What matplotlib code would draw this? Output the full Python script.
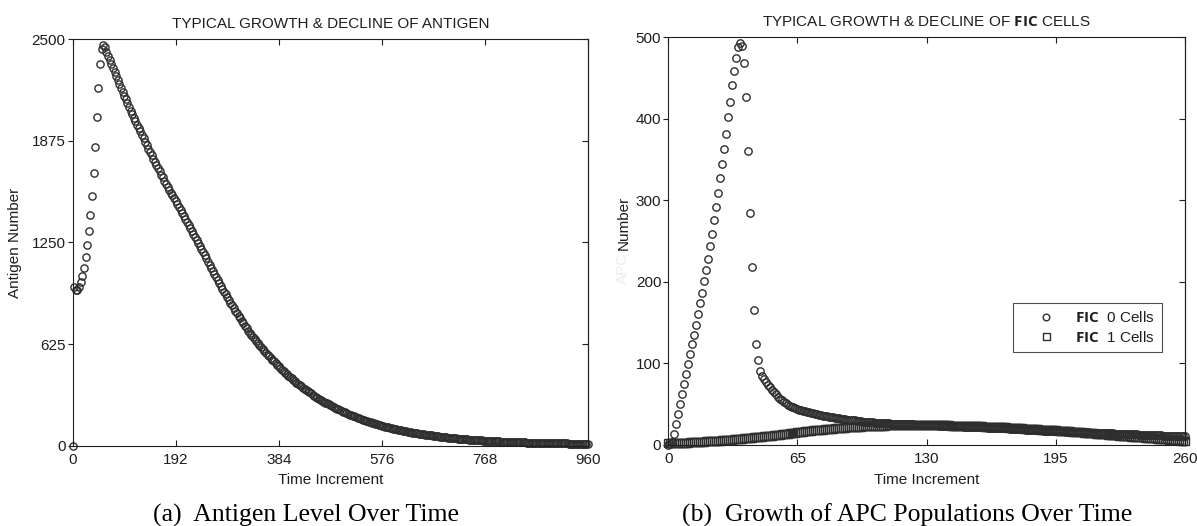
import matplotlib
matplotlib.use("Agg")
import matplotlib.pyplot as plt
import numpy as np

plt.rcParams['font.family'] = ['Liberation Sans', 'DejaVu Sans']
plt.rcParams['mathtext.fontset'] = 'custom'
plt.rcParams['mathtext.bf'] = 'Open Sans:bold'

# ---- data ----
antigen_t = np.arange(0, 961, 3)
antigen = [
    0, 975, 960, 958, 975, 1005, 1045, 1095, 1160, 1235,
    1320, 1420, 1535, 1680, 1840, 2020, 2200, 2350, 2440, 2462,
    2450, 2424, 2399, 2373, 2348, 2322, 2297, 2272, 2248, 2224,
    2200, 2177, 2153, 2130, 2107, 2084, 2060, 2038, 2017, 1996,
    1975, 1954, 1933, 1912, 1891, 1870, 1849, 1828, 1807, 1786,
    1765, 1746, 1726, 1706, 1687, 1668, 1650, 1631, 1612, 1594,
    1575, 1557, 1539, 1521, 1503, 1485, 1467, 1449, 1431, 1413,
    1395, 1377, 1359, 1341, 1322, 1304, 1285, 1266, 1247, 1229,
    1210, 1190, 1171, 1152, 1132, 1113, 1095, 1076, 1057, 1039,
    1020, 1002, 984, 966, 948, 931, 914, 896, 880, 863,
    846, 830, 814, 798, 783, 768, 752, 737, 722, 707,
    692, 679, 667, 654, 642, 630, 618, 606, 594, 583,
    571, 560, 549, 539, 528, 518, 507, 497, 487, 477,
    467, 458, 448, 439, 430, 422, 413, 404, 396, 388,
    380, 372, 364, 357, 349, 342, 335, 328, 321, 314,
    307, 301, 294, 288, 282, 276, 270, 264, 259, 253,
    248, 243, 238, 233, 228, 223, 218, 214, 209, 205,
    200, 196, 191, 187, 182, 179, 175, 171, 168, 164,
    160, 157, 154, 150, 147, 144, 140, 137, 134, 131,
    128, 125, 122, 119, 116, 114, 112, 109, 107, 104,
    102, 100, 98, 96, 94, 92, 89, 87, 86, 84,
    82, 80, 78, 77, 75, 74, 72, 71, 69, 68,
    66, 65, 64, 62, 61, 59, 58, 57, 55, 54,
    53, 52, 51, 49, 48, 47, 46, 45, 44, 43,
    42, 41, 40, 40, 39, 38, 37, 37, 36, 35,
    34, 34, 33, 32, 32, 31, 31, 30, 29, 29,
    28, 28, 27, 27, 26, 26, 25, 25, 24, 24,
    23, 23, 22, 22, 22, 21, 21, 20, 20, 19,
    19, 19, 18, 18, 18, 17, 17, 17, 16, 16,
    16, 15, 15, 15, 15, 15, 14, 14, 14, 14,
    14, 14, 13, 13, 13, 13, 13, 13, 12, 12,
    12, 12, 12, 12, 12, 12, 11, 11, 11, 11,
    11,
]

fic_t = np.arange(0, 261)
fic0 = [
    0, 1, 4, 13, 26, 38, 50, 62, 75, 87,
    99, 112, 124, 135, 147, 161, 174, 187, 201, 215,
    228, 244, 259, 276, 292, 309, 327, 345, 363, 382,
    402, 421, 441, 459, 475, 488, 493, 489, 468, 427,
    360, 285, 218, 165, 124, 104, 91, 85, 81, 77,
    74, 71, 68, 65, 62, 59, 57, 55, 53, 51,
    49, 48, 47, 46, 45, 44, 43, 42.5, 42, 41.5,
    41, 40.3, 39.7, 39, 38.3, 37.7, 37, 36.5, 36, 35.5,
    35, 34.6, 34.2, 33.8, 33.4, 33, 32.6, 32.2, 31.8, 31.4,
    31, 30.8, 30.6, 30.4, 30.2, 30, 29.6, 29.2, 28.8, 28.4,
    28, 27.9, 27.7, 27.6, 27.4, 27.3, 27.1, 27.0, 26.8, 26.7,
    26.5, 26.4, 26.3, 26.2, 26.1, 26.0, 25.9, 25.8, 25.7, 25.6,
    25.5, 25.4, 25.3, 25.2, 25.1, 25.0, 24.9, 24.8, 24.7, 24.6,
    24.5, 24.4, 24.3, 24.2, 24.1, 24.0, 23.9, 23.8, 23.7, 23.6,
    23.5, 23.4, 23.3, 23.2, 23.1, 23.0, 22.9, 22.8, 22.7, 22.6,
    22.5, 22.4, 22.3, 22.2, 22.1, 22.0, 21.9, 21.8, 21.7, 21.6,
    21.5, 21.4, 21.3, 21.2, 21.1, 21.0, 20.9, 20.8, 20.7, 20.6,
    20.5, 20.4, 20.2, 20.1, 19.9, 19.8, 19.6, 19.5, 19.3, 19.2,
    19.0, 18.9, 18.7, 18.6, 18.4, 18.3, 18.1, 18.0, 17.8, 17.7,
    17.5, 17.4, 17.3, 17.2, 17.1, 17.0, 16.9, 16.8, 16.7, 16.6,
    16.5, 16.4, 16.3, 16.2, 16.1, 16.0, 15.9, 15.8, 15.7, 15.6,
    15.5, 15.4, 15.3, 15.2, 15.1, 15.0, 14.9, 14.8, 14.7, 14.6,
    14.5, 14.4, 14.3, 14.2, 14.1, 14.0, 13.9, 13.8, 13.7, 13.6,
    13.5, 13.4, 13.3, 13.2, 13.1, 13.0, 12.9, 12.8, 12.7, 12.6,
    12.5, 12.4, 12.3, 12.2, 12.1, 12.0, 11.9, 11.8, 11.7, 11.6,
    11.5, 11.5, 11.4, 11.4, 11.3, 11.3, 11.2, 11.2, 11.1, 11.1, 11.0,
]
fic1 = [
    2.0, 2.1, 2.2, 2.3, 2.4, 2.5, 2.6, 2.7, 2.8, 2.9,
    3.0, 3.2, 3.3, 3.5, 3.6, 3.8, 3.9, 4.1, 4.2, 4.4,
    4.5, 4.7, 4.8, 5.0, 5.1, 5.3, 5.4, 5.6, 5.7, 5.9,
    6.0, 6.3, 6.5, 6.8, 7.0, 7.3, 7.5, 7.8, 8.0, 8.3,
    8.5, 8.8, 9.0, 9.3, 9.5, 9.8, 10.0, 10.3, 10.5, 10.8,
    11.0, 11.3, 11.6, 11.9, 12.2, 12.5, 12.8, 13.1, 13.4, 13.7,
    14.0, 14.3, 14.6, 14.9, 15.2, 15.5, 15.8, 16.1, 16.4, 16.7,
    17.0, 17.3, 17.5, 17.8, 18.0, 18.3, 18.5, 18.8, 19.0, 19.3,
    19.5, 19.7, 19.9, 20.1, 20.3, 20.5, 20.7, 20.9, 21.1, 21.3,
    21.5, 21.7, 21.8, 22.0, 22.1, 22.3, 22.4, 22.6, 22.7, 22.9,
    23.0, 23.1, 23.2, 23.3, 23.4, 23.5, 23.6, 23.7, 23.8, 23.9,
    24.0, 24.1, 24.1, 24.2, 24.2, 24.3, 24.3, 24.4, 24.4, 24.5,
    24.5, 24.5, 24.6, 24.6, 24.6, 24.6, 24.6, 24.6, 24.5, 24.5,
    24.5, 24.5, 24.4, 24.4, 24.3, 24.3, 24.2, 24.2, 24.1, 24.1,
    24.0, 24.0, 23.9, 23.9, 23.8, 23.8, 23.7, 23.7, 23.6, 23.6,
    23.5, 23.4, 23.3, 23.2, 23.1, 23.0, 22.9, 22.8, 22.7, 22.6,
    22.5, 22.4, 22.3, 22.2, 22.1, 22.0, 21.9, 21.8, 21.7, 21.6,
    21.5, 21.4, 21.2, 21.1, 20.9, 20.8, 20.6, 20.5, 20.3, 20.2,
    20.0, 19.9, 19.7, 19.6, 19.4, 19.3, 19.1, 19.0, 18.8, 18.7,
    18.5, 18.4, 18.2, 18.1, 17.9, 17.8, 17.6, 17.5, 17.3, 17.2,
    17.0, 16.8, 16.6, 16.4, 16.2, 16.0, 15.8, 15.6, 15.4, 15.2,
    15.0, 14.8, 14.6, 14.4, 14.2, 14.0, 13.8, 13.6, 13.4, 13.2,
    13.0, 12.8, 12.6, 12.4, 12.2, 12.0, 11.8, 11.6, 11.4, 11.2,
    11.0, 10.8, 10.6, 10.4, 10.2, 10.0, 9.8, 9.6, 9.4, 9.2,
    9.0, 8.8, 8.6, 8.4, 8.2, 8.0, 7.8, 7.6, 7.4, 7.2,
    7.0, 6.8, 6.6, 6.4, 6.2, 6.0, 5.8, 5.6, 5.4, 5.2, 5.0,
]

antigen_xticks = [0, 192, 384, 576, 768, 960]
antigen_yticks = [0, 625, 1250, 1875, 2500]
fic_xticks = [0, 65, 130, 195, 260]
fic_yticks = [0, 100, 200, 300, 400, 500]

txt = '#1e1e1e'
mk = '#2e2e2e'
fs = 11

fig = plt.figure(figsize=(11.97, 5.26), dpi=100)
ax1 = fig.add_axes([0.0607, 0.1529, 0.4305, 0.7724])
ax2 = fig.add_axes([0.5583, 0.1540, 0.4317, 0.7751])


def style(ax, xt, yt):
    ax.set_xticks(xt)
    ax.set_yticks(yt)
    ax.set_xlim(xt[0], xt[-1])
    ax.set_ylim(yt[0], yt[-1])
    ax.tick_params(axis='x', direction='in', top=True, length=4, width=0.8,
                   pad=5, labelsize=fs, colors=txt)
    ax.tick_params(axis='y', direction='out', right=False, length=3.5, width=0.8,
                   pad=1.5, labelsize=fs, colors=txt)
    for s in ax.spines.values():
        s.set_linewidth(0.8)
        s.set_color('#202020')
    sec = ax.secondary_yaxis('right')
    sec.set_yticks(yt)
    sec.tick_params(direction='in', length=4, width=0.8, labelright=False, colors=txt)
    sec.spines['right'].set_linewidth(0.8)
    sec.spines['right'].set_color('#202020')


# left: antigen
ax1.plot(antigen_t, antigen, 'o', ms=5.2, mfc='none', mec=mk, mew=1.0, clip_on=False)
style(ax1, antigen_xticks, antigen_yticks)
ax1.set_title('TYPICAL GROWTH & DECLINE OF ANTIGEN', fontsize=fs, color=txt, pad=8)
ax1.set_xlabel('Time Increment', fontsize=fs, color=txt, labelpad=5)
ax1.set_ylabel('Antigen Number', fontsize=fs, color=txt)
ax1.yaxis.set_label_coords(-0.0974, 0.5)

# right: FIC cells
ax2.plot(fic_t, fic0, 'o', ms=5.3, mfc='none', mec=mk, mew=1.0, clip_on=False,
         label=r'$\mathbf{FIC}$  0 Cells')
ax2.plot(fic_t, fic1, 's', ms=5.6, mfc='none', mec=mk, mew=1.0, clip_on=False,
         label=r'$\mathbf{FIC}$  1 Cells')
style(ax2, fic_xticks, fic_yticks)
ax2.set_title(r'TYPICAL GROWTH & DECLINE OF $\mathbf{FIC}$ CELLS', fontsize=fs,
              color=txt, pad=8)
ax2.set_xlabel('Time Increment', fontsize=fs, color=txt, labelpad=5)
ax2.set_ylabel('Number', fontsize=fs, color=txt)
ax2.yaxis.set_label_coords(-0.0733, 0.545)
ax2.text(-0.0733, 0.434, 'APC', transform=ax2.transAxes, rotation=90,
         ha='right', va='center', fontsize=fs, color='#ededed')

leg = ax2.legend(loc='lower right', bbox_to_anchor=(0.955, 0.229), borderaxespad=0,
                 fontsize=fs, frameon=True, fancybox=False, handlelength=3.4,
                 handletextpad=0.2, borderpad=0.45, labelspacing=0.3,
                 markerscale=0.9)
leg.get_frame().set_edgecolor('#202020')
leg.get_frame().set_linewidth(0.8)
for t in leg.get_texts():
    t.set_color(txt)

# captions under the panels
fig.text(305.6 / 1197, 1 - 522 / 526, '(a)  Antigen Level Over Time',
         family='Liberation Serif', fontsize=18.5, ha='center', va='baseline')
fig.text(906.7 / 1197, 1 - 522 / 526, '(b)  Growth of APC Populations Over Time',
         family='Liberation Serif', fontsize=18.5, ha='center', va='baseline')

fig.savefig('out.png', dpi=100)
